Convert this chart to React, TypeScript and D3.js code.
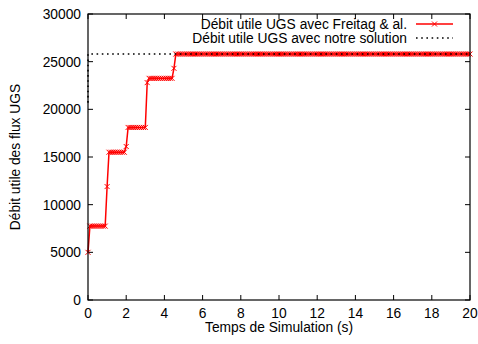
import React from "react";
import * as d3 from "d3";

// Freitag & al. series: step plateaus sampled every 0.1 s (start, end, value)
const stepStart = [0, 0.1, 1.0, 1.1, 2.0, 2.1, 3.1, 3.2, 4.5, 4.6];
const stepEnd = [0, 0.9, 1.0, 1.9, 2.0, 3.0, 3.1, 4.4, 4.5, 20];
const stepValue = [5000, 7750, 11900, 15500, 16100, 18100, 22800, 23250, 24300, 25800];

// "notre solution" series
const oursTime = [0, 0, 20];
const oursValue = [20700, 25800, 25800];

const xTicks = [0, 2, 4, 6, 8, 10, 12, 14, 16, 18, 20];
const yTicks = [0, 5000, 10000, 15000, 20000, 25000, 30000];

const legendLabels = [
  "Débit utile UGS avec Freitag & al.",
  "Débit utile UGS avec notre solution",
];

const W = 478, H = 344;
const L = 88, R = 470, T = 14, B = 300;
const FONT = "Liberation Sans, Arial, Helvetica, sans-serif";
const FS = 13.8;

export default function App() {
  const x = d3.scaleLinear().domain([0, 20]).range([L, R]);
  const y = d3.scaleLinear().domain([0, 30000]).range([B, T]);

  const freitag: [number, number][] = [];
  stepStart.forEach((s, i) => {
    const n = Math.round((stepEnd[i] - s) / 0.1);
    for (let k = 0; k <= n; k++) {
      freitag.push([+(s + k * 0.1).toFixed(2), stepValue[i]]);
    }
  });
  const ours: [number, number][] = oursTime.map((t, i) => [t, oursValue[i]]);

  const line = d3
    .line<[number, number]>()
    .x((d) => x(d[0]))
    .y((d) => y(d[1]));

  const ms = 2.5;
  const cross = (cx: number, cy: number, key: string | number) => (
    <path
      key={key}
      d={`M${cx - ms},${cy - ms}L${cx + ms},${cy + ms}M${cx - ms},${cy + ms}L${cx + ms},${cy - ms}`}
      stroke="#ff0000"
      strokeWidth={1}
      fill="none"
    />
  );

  const tickLen = 5;

  return (
    <svg
      width={W}
      height={H}
      style={{ position: "absolute", left: 0, top: 0, background: "#fff" }}
      fontFamily={FONT}
    >
      <rect x={0} y={0} width={W} height={H} fill="#fff" />
      {/* ticks */}
      {xTicks.map((t) => (
        <g key={"xt" + t}>
          <line x1={x(t)} x2={x(t)} y1={B} y2={B - tickLen} stroke="#000" />
          <line x1={x(t)} x2={x(t)} y1={T} y2={T + tickLen} stroke="#000" />
          <text x={x(t)} y={B + 18} fontSize={FS} textAnchor="middle" fill="#000">
            {t}
          </text>
        </g>
      ))}
      {yTicks.map((t) => (
        <g key={"yt" + t}>
          <line x1={L} x2={L + tickLen} y1={y(t)} y2={y(t)} stroke="#000" />
          <line x1={R} x2={R - tickLen} y1={y(t)} y2={y(t)} stroke="#000" />
          <text x={L - 7} y={y(t) + 5} fontSize={FS} textAnchor="end" fill="#000">
            {t}
          </text>
        </g>
      ))}

      {/* Freitag series */}
      <path d={line(freitag) ?? ""} stroke="#ff0000" strokeWidth={1.5} fill="none" />
      {freitag.map((d, i) => cross(x(d[0]), y(d[1]), i))}

      {/* ours series */}
      <path
        d={line(ours) ?? ""}
        stroke="#000"
        strokeWidth={1.6}
        strokeDasharray="1.6,3.6"
        fill="none"
      />

      {/* frame */}
      <rect x={L} y={T} width={R - L} height={B - T} fill="none" stroke="#000" strokeWidth={1.2} />

      {/* legend */}
      <text x={407} y={29} fontSize={FS} textAnchor="end" fill="#000">
        {legendLabels[0]}
      </text>
      <line x1={416} x2={453} y1={24} y2={24} stroke="#ff0000" strokeWidth={1.5} />
      {cross(434.5, 24, "leg")}
      <text x={407} y={43} fontSize={FS} textAnchor="end" fill="#000">
        {legendLabels[1]}
      </text>
      <line
        x1={416}
        x2={453}
        y1={38}
        y2={38}
        stroke="#000"
        strokeWidth={1.6}
        strokeDasharray="1.6,3.6"
      />

      {/* axis titles */}
      <text x={(L + R) / 2} y={332} fontSize={FS} textAnchor="middle" fill="#000">
        Temps de Simulation (s)
      </text>
      <text
        transform={`translate(20,${(T + B) / 2}) rotate(-90)`}
        fontSize={FS}
        textAnchor="middle"
        fill="#000"
      >
        Débit utile des flux UGS
      </text>
    </svg>
  );
}
